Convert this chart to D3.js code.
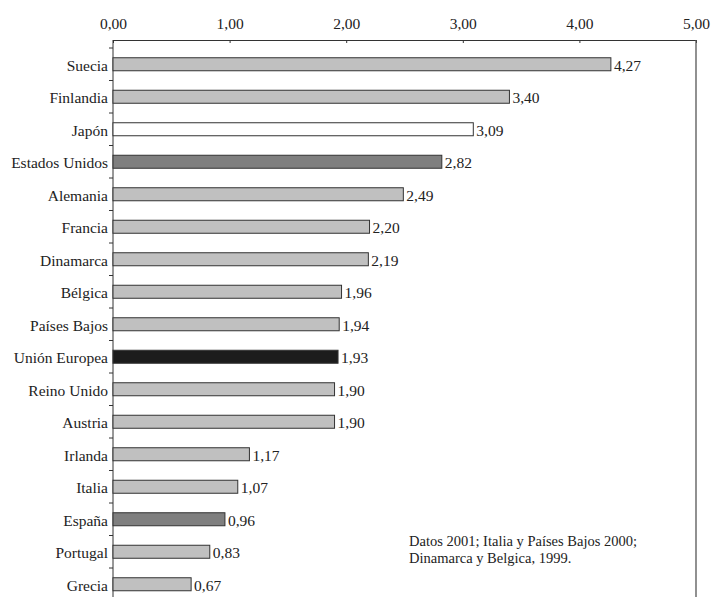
<!DOCTYPE html>
<html>
<head>
<meta charset="utf-8">
<script src="https://cdn.jsdelivr.net/npm/d3@7/dist/d3.min.js"></script>
<style>
  html, body { margin: 0; padding: 0; background: #fff; }
  svg { display: block; }
</style>
</head>
<body>
<svg id="chart" width="717" height="597"></svg>
<script>
// Gasto en I+D como porcentaje del PIB
const countries = ["Suecia", "Finlandia", "Japón", "Estados Unidos", "Alemania", "Francia",
  "Dinamarca", "Bélgica", "Países Bajos", "Unión Europea", "Reino Unido", "Austria",
  "Irlanda", "Italia", "España", "Portugal", "Grecia"];
const values = [4.27, 3.40, 3.09, 2.82, 2.49, 2.20, 2.19, 1.96, 1.94, 1.93, 1.90, 1.90,
  1.17, 1.07, 0.96, 0.83, 0.67];
const fills = ["#c0c0c0", "#c0c0c0", "#ffffff", "#7f7f7f", "#c0c0c0", "#c0c0c0",
  "#c0c0c0", "#c0c0c0", "#c0c0c0", "#1c1c1c", "#c0c0c0", "#c0c0c0",
  "#c0c0c0", "#c0c0c0", "#7f7f7f", "#c0c0c0", "#c0c0c0"];
const tickValues = [0, 1, 2, 3, 4, 5];
const noteLines = ["Datos 2001; Italia y Países Bajos 2000;", "Dinamarca y Belgica, 1999."];

const FONT = "'Liberation Serif', 'Times New Roman', Times, serif";
const FS = "15.5px";
const svg = d3.select("#chart");
const plotLeft = 113, plotRight = 696, plotTop = 40, plotBottom = 597;

const es = d3.formatLocale({ decimal: ",", thousands: ".", grouping: [3], currency: ["", " €"] });
const fmt = es.format(".2f");

const x = d3.scaleLinear().domain([0, 5]).range([plotLeft, plotRight]);
const y = d3.scaleBand().domain(countries).range([48, 48 + 32.5 * countries.length]).padding(0);
const barH = 13;

// Top axis
const xAxis = d3.axisTop(x).tickValues(tickValues).tickFormat(fmt).tickSizeInner(-3).tickSizeOuter(0).tickPadding(11);
const gx = svg.append("g").attr("transform", `translate(0,${plotTop})`).call(xAxis)
  .attr("font-family", null).attr("font-size", null);
gx.selectAll(".tick text").style("font-family", FONT).style("font-size", FS).attr("fill", "#222");
gx.select(".domain").attr("stroke", "#333");
gx.selectAll(".tick line").attr("stroke", "#333");

// Left axis line, right frame line and category separators
svg.append("line").attr("x1", plotLeft).attr("x2", plotLeft).attr("y1", plotTop).attr("y2", plotBottom)
  .attr("stroke", "#333").attr("stroke-width", 1);
svg.append("line").attr("x1", plotRight).attr("x2", plotRight).attr("y1", plotTop).attr("y2", plotBottom)
  .attr("stroke", "#555").attr("stroke-width", 1.3);
svg.append("g").selectAll("line").data(countries).join("line")
  .attr("x1", plotLeft - 4).attr("x2", plotLeft)
  .attr("y1", d => y(d)).attr("y2", d => y(d))
  .attr("stroke", "#333");

// Bars
svg.append("g").selectAll("rect").data(countries).join("rect")
  .attr("x", plotLeft)
  .attr("y", d => y(d) + y.bandwidth() / 2 - barH / 2)
  .attr("width", (d, i) => x(values[i]) - plotLeft)
  .attr("height", barH)
  .attr("fill", (d, i) => fills[i])
  .attr("stroke", "#333").attr("stroke-width", 1);

// Category labels
svg.append("g").selectAll("text").data(countries).join("text")
  .style("font-family", FONT).style("font-size", FS).attr("fill", "#222")
  .attr("x", plotLeft - 5)
  .attr("y", d => y(d) + y.bandwidth() / 2 + 1)
  .attr("dy", "0.35em")
  .attr("text-anchor", "end")
  .text(d => d);

// Value labels
svg.append("g").selectAll("text").data(countries).join("text")
  .style("font-family", FONT).style("font-size", FS).attr("fill", "#222")
  .attr("x", (d, i) => x(values[i]) + 3)
  .attr("y", d => y(d) + y.bandwidth() / 2 + 1)
  .attr("dy", "0.35em")
  .text((d, i) => fmt(values[i]));

// Note
svg.append("g").selectAll("text").data(noteLines).join("text")
  .style("font-family", FONT).style("font-size", "14.5px").attr("fill", "#222")
  .attr("x", 409)
  .attr("y", (d, i) => 546 + i * 17)
  .text(d => d);
</script>
</body>
</html>
